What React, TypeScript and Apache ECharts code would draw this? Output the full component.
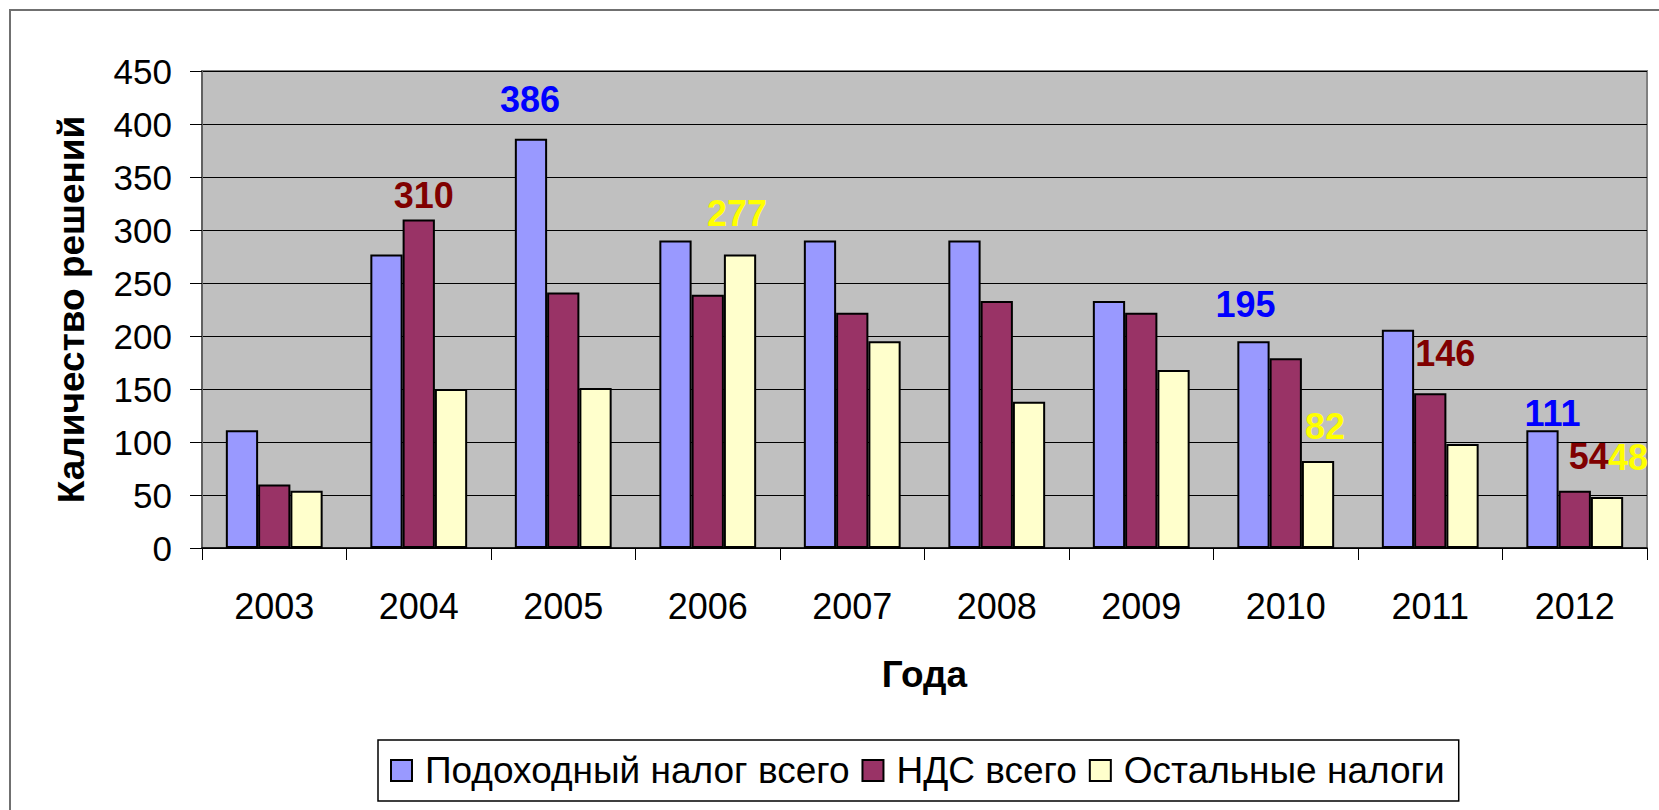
import React, { useEffect, useRef } from "react";
import * as echarts from "echarts";

const years = ["2003", "2004", "2005", "2006", "2007", "2008", "2009", "2010", "2011", "2012"];
const seriesNames = ["Подоходный налог всего", "НДС всего", "Остальные налоги"];
const incomeTax = [111, 277, 386, 290, 290, 290, 233, 195, 206, 111];
const vat = [60, 310, 241, 239, 222, 233, 222, 179, 146, 54];
const otherTaxes = [54, 150, 151, 277, 195, 138, 168, 82, 98, 48];
const yMin = 0;
const yMax = 450;
const yStep = 50;
const yTitle = "Каличество решений";
const xTitle = "Года";

// which points carry a value label (index into years)
const labelledIncome = [2, 7, 9];
const labelledVat = [1, 8, 9];
const labelledOther = [3, 7, 9];

// label nudges [dx, dy] relative to the bar top
const nudgesIncome: Record<number, number[]> = { 2: [-1, -21], 7: [-8, -19], 9: [10, 1] };
const nudgesVat: Record<number, number[]> = { 1: [5, -6], 8: [15, -22], 9: [14, -16] };
const nudgesOther: Record<number, number[]> = { 3: [-3, -23], 7: [7, -17], 9: [21, -22] };

const FONT = "'Liberation Sans', Arial, sans-serif";
const fills = ["#9999FF", "#993366", "#FFFFCC"];
const labelColors = ["#0000FF", "#800000", "#FFFF00"];

function buildData(values: number[], labelled: number[], nudges: Record<number, number[]>, color: string) {
  return values.map((v, i) =>
    labelled.includes(i)
      ? {
          value: v,
          label: {
            show: true,
            position: "top",
            distance: 0,
            offset: nudges[i],
            color,
            fontFamily: FONT,
            fontWeight: "bold",
            fontSize: 36,
          },
        }
      : { value: v }
  );
}

export default function App() {
  const ref = useRef<HTMLDivElement>(null);
  useEffect(() => {
    document.body.style.margin = "0";
    if (!ref.current) return;
    const chart = echarts.init(ref.current, null, { renderer: "svg" });
    const barBase = (i: number) => ({
      type: "bar",
      name: seriesNames[i],
      barGap: "0%",
      barCategoryGap: "33%",
      itemStyle: { color: fills[i], borderColor: "#000", borderWidth: 2 },
      label: { show: false },
    });
    chart.setOption({
      animation: false,
      backgroundColor: "#fff",
      textStyle: { fontFamily: FONT },
      graphic: [
        {
          type: "polyline",
          shape: { points: [[10, 812], [10, 10], [1662, 10]] },
          style: { stroke: "#707070", lineWidth: 2, fill: "none" },
          silent: true,
        },
      ],
      grid: {
        left: 202,
        top: 71,
        right: 12,
        bottom: 262,
        show: true,
        backgroundColor: "#C0C0C0",
        borderColor: "#808080",
        borderWidth: 2,
        containLabel: false,
      },
      legend: {
        left: 378,
        top: 740,
        padding: [12, 14, 12, 12],
        borderColor: "#000",
        borderWidth: 1.5,
        itemWidth: 21,
        itemHeight: 21,
        itemGap: 12,
        icon: "rect",
        textStyle: { fontFamily: FONT, fontSize: 37, color: "#000", padding: [0, 0, 0, 8] },
        data: seriesNames,
      },
      xAxis: {
        type: "category",
        data: years,
        name: xTitle,
        nameLocation: "middle",
        nameGap: 108,
        nameTextStyle: { fontFamily: FONT, fontSize: 37, fontWeight: "bold", color: "#000" },
        axisLine: { lineStyle: { color: "#000", width: 1.5 } },
        axisTick: { show: true, length: 12, inside: false, lineStyle: { color: "#000", width: 1 } },
        axisLabel: { fontFamily: FONT, fontSize: 36, color: "#000", margin: 40 },
        splitLine: { show: false },
      },
      yAxis: {
        type: "value",
        min: yMin,
        max: yMax,
        interval: yStep,
        name: yTitle,
        nameLocation: "middle",
        nameGap: 112,
        nameRotate: 90,
        nameTextStyle: { fontFamily: FONT, fontSize: 37, fontWeight: "bold", color: "#000" },
        axisLine: { show: true, lineStyle: { color: "#606060", width: 2 } },
        axisTick: { show: true, length: 12, inside: false, lineStyle: { color: "#000", width: 1 } },
        axisLabel: { fontFamily: FONT, fontSize: 35, color: "#000", margin: 30 },
        splitLine: { show: true, lineStyle: { color: "#000", width: 1.2 } },
      },
      series: [
        { ...barBase(0), data: buildData(incomeTax, labelledIncome, nudgesIncome, labelColors[0]) },
        { ...barBase(1), data: buildData(vat, labelledVat, nudgesVat, labelColors[1]) },
        { ...barBase(2), data: buildData(otherTaxes, labelledOther, nudgesOther, labelColors[2]) },
      ],
    });
    return () => chart.dispose();
  }, []);
  return <div ref={ref} style={{ width: 1659, height: 810 }} />;
}
